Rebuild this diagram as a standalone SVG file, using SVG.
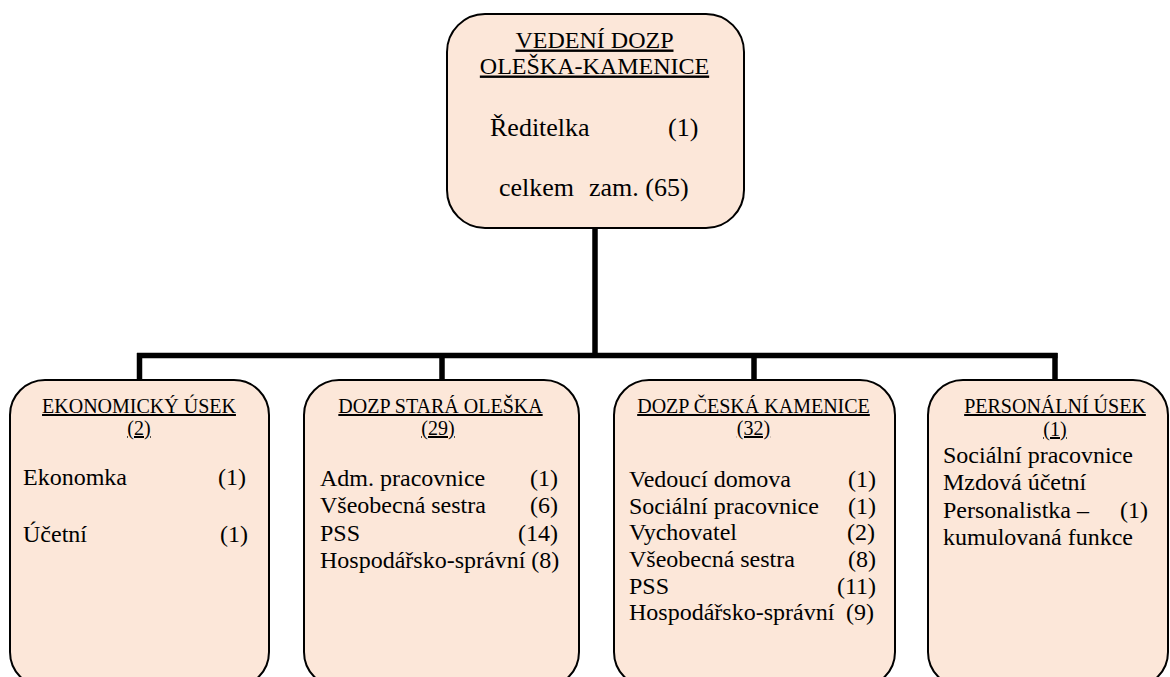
<svg xmlns="http://www.w3.org/2000/svg" width="1170" height="677" viewBox="0 0 1170 677" font-family="Liberation Serif, Times New Roman, serif">
<style>
.box{fill:#FCE7D9;stroke:#000;stroke-width:2}
.conn{fill:none;stroke:#000;stroke-width:5.5;stroke-linecap:butt;stroke-linejoin:miter}
text{font-family:'Liberation Serif','Times New Roman',serif;fill:#000}
.t24{font-size:24px}
.t26{font-size:26px}
.t20{font-size:20px}
.u{text-decoration:underline}
.c{text-anchor:middle}
.r{text-anchor:end}
</style>
<rect width="1170" height="677" fill="#fff"/>
<g id="connectors">
<line class="conn" x1="595" y1="228" x2="595" y2="355.5"/>
<line class="conn" x1="137" y1="355.5" x2="1057.5" y2="355.5"/>
<line class="conn" x1="139.5" y1="353" x2="139.5" y2="381"/>
<line class="conn" x1="442" y1="355" x2="442" y2="381"/>
<line class="conn" x1="754" y1="355" x2="754" y2="381"/>
<line class="conn" x1="1055" y1="353" x2="1055" y2="381"/>
</g>
<g id="vedeni" font-family="Liberation Serif, serif">
<rect class="box" x="447" y="14" width="297" height="214" rx="38" ry="38"/>
<text class="t24 u c" x="594.5" y="47.5">VEDENÍ DOZP</text>
<text class="t24 u c" x="594.5" y="73.5">OLEŠKA-KAMENICE</text>
<text class="t26" x="490" y="136">Ředitelka</text>
<text class="t26" x="668" y="136">(1)</text>
<text class="t26" x="499" y="195.5">celkem</text>
<text class="t26" x="589" y="195.5">zam. (65)</text>
</g>
<g id="ekonomicky" font-family="Liberation Serif, serif">
<rect class="box" x="10" y="380" width="259" height="307" rx="35" ry="35"/>
<text class="t20 u c" x="139" y="413">EKONOMICKÝ ÚSEK</text>
<text class="t20 u c" x="139" y="435">(2)</text>
<text class="t24" x="23" y="485">Ekonomka</text>
<text class="t24" x="218" y="485">(1)</text>
<text class="t24" x="23" y="541.5">Účetní</text>
<text class="t24" x="220" y="541.5">(1)</text>
</g>
<g id="stara-oleska" font-family="Liberation Serif, serif">
<rect class="box" x="304" y="380" width="275" height="307" rx="35" ry="35"/>
<text class="t20 u c" x="440.5" y="413">DOZP STARÁ OLEŠKA</text>
<text class="t20 u c" x="438" y="435">(29)</text>
<text class="t24" x="320" y="486">Adm. pracovnice</text>
<text class="t24 r" x="558" y="486">(1)</text>
<text class="t24" x="320" y="513">Všeobecná sestra</text>
<text class="t24 r" x="558" y="513">(6)</text>
<text class="t24" x="320" y="540.5">PSS</text>
<text class="t24 r" x="558" y="540.5">(14)</text>
<text class="t24" x="320" y="568">Hospodářsko-správní (8)</text>
</g>
<g id="ceska-kamenice" font-family="Liberation Serif, serif">
<rect class="box" x="614" y="380" width="281" height="307" rx="35" ry="35"/>
<text class="t20 u c" x="753.5" y="413">DOZP ČESKÁ KAMENICE</text>
<text class="t20 u c" x="753.5" y="435">(32)</text>
<text class="t24" x="629" y="487">Vedoucí domova</text>
<text class="t24 r" x="876" y="487">(1)</text>
<text class="t24" x="629" y="513.5">Sociální pracovnice</text>
<text class="t24 r" x="876" y="513.5">(1)</text>
<text class="t24" x="629" y="540">Vychovatel</text>
<text class="t24 r" x="875" y="540">(2)</text>
<text class="t24" x="629" y="567">Všeobecná sestra</text>
<text class="t24 r" x="876" y="567">(8)</text>
<text class="t24" x="629" y="593.5">PSS</text>
<text class="t24 r" x="876" y="593.5">(11)</text>
<text class="t24" x="629" y="620">Hospodářsko-správní</text>
<text class="t24 r" x="874" y="620">(9)</text>
</g>
<g id="personalni" font-family="Liberation Serif, serif">
<rect class="box" x="928" y="380" width="240" height="307" rx="35" ry="35"/>
<text class="t20 u c" x="1055" y="413">PERSONÁLNÍ ÚSEK</text>
<text class="t20 u c" x="1055" y="436">(1)</text>
<text class="t24" x="943" y="463">Sociální pracovnice</text>
<text class="t24" x="943" y="490">Mzdová účetní</text>
<text class="t24" x="943" y="517.5">Personalistka –</text>
<text class="t24" x="1120" y="517.5">(1)</text>
<text class="t24" x="943" y="545">kumulovaná funkce</text>
</g>
</svg>
